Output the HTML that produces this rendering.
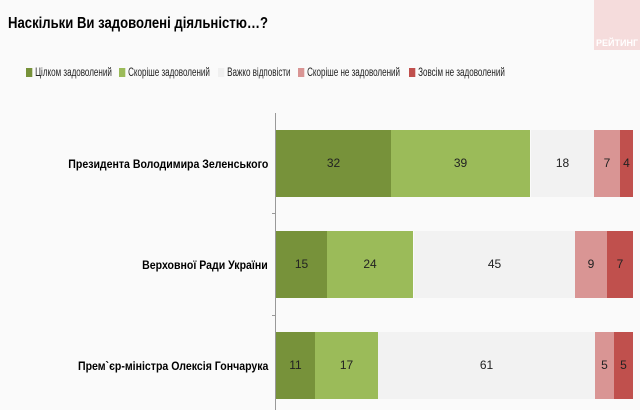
<!DOCTYPE html>
<html><head><meta charset="utf-8"><style>
body{margin:0;width:640px;height:410px;position:relative;overflow:hidden;background:#fafafa;font-family:"Liberation Sans",sans-serif;}
.a{position:absolute}
.t{font-weight:bold;font-size:16px;left:8px;top:15px;transform:scaleX(0.82);transform-origin:left;white-space:nowrap}
.lg{top:67px;font-size:11.5px;color:#222;white-space:nowrap;transform:scaleX(0.7);transform-origin:left}
.lg i{display:inline-block;width:9px;height:9px;margin-right:4px;vertical-align:-1px}
.s{position:absolute;height:67px;line-height:67px;text-align:center;font-size:12px;color:#222}
.lab{right:372px;font-weight:bold;font-size:12px;text-align:right;white-space:nowrap;transform:scaleX(0.88);transform-origin:right}
</style></head><body>
<div class="a" style="left:594px;top:0;width:46px;height:50px;background:#f5dcdc"></div>
<div class="a" style="left:596px;top:38px;font-size:9px;font-weight:bold;color:#fff">РЕЙТИНГ</div>
<div class="a t">Наскільки Ви задоволені діяльністю…?</div>
<div class="a lg" style="left:26px"><i style="background:#77923a"></i>Цілком задоволений</div>
<div class="a lg" style="left:119px"><i style="background:#9bbb59"></i>Скоріше задоволений</div>
<div class="a lg" style="left:218px"><i style="background:#f0f0f0"></i>Важко відповісти</div>
<div class="a lg" style="left:298px"><i style="background:#d99594"></i>Скоріше не задоволений</div>
<div class="a lg" style="left:409px"><i style="background:#c0504d"></i>Зовсім не задоволений</div>
<div class="a" style="left:275px;top:113px;width:1px;height:297px;background:#999"></div>
<div class="a" style="left:272px;top:213px;width:3px;height:1px;background:#999"></div>
<div class="a" style="left:272px;top:315px;width:3px;height:1px;background:#999"></div>
<div class="a lab" style="top:157px">Президента Володимира Зеленського</div>
<div class="a lab" style="top:258px">Верховної Ради України</div>
<div class="a lab" style="top:359px">Прем`єр-міністра Олексія Гончарука</div>

<div class="s" style="top:130px;left:276px;width:115px;background:#77923a">32</div>
<div class="s" style="top:130px;left:391px;width:139px;background:#9bbb59">39</div>
<div class="s" style="top:130px;left:531px;width:63px;background:#f2f2f2">18</div>
<div class="s" style="top:130px;left:594px;width:26px;background:#d99594">7</div>
<div class="s" style="top:130px;left:620px;width:13px;background:#c0504d">4</div>

<div class="s" style="top:231px;left:276px;width:51px;background:#77923a">15</div>
<div class="s" style="top:231px;left:327px;width:86px;background:#9bbb59">24</div>
<div class="s" style="top:231px;left:414px;width:161px;background:#f2f2f2">45</div>
<div class="s" style="top:231px;left:575px;width:32px;background:#d99594">9</div>
<div class="s" style="top:231px;left:607px;width:26px;background:#c0504d">7</div>

<div class="s" style="top:332px;left:276px;width:39px;background:#77923a">11</div>
<div class="s" style="top:332px;left:315px;width:63px;background:#9bbb59">17</div>
<div class="s" style="top:332px;left:378px;width:217px;background:#f2f2f2">61</div>
<div class="s" style="top:332px;left:595px;width:19px;background:#d99594">5</div>
<div class="s" style="top:332px;left:614px;width:19px;background:#c0504d">5</div>
</body></html>
